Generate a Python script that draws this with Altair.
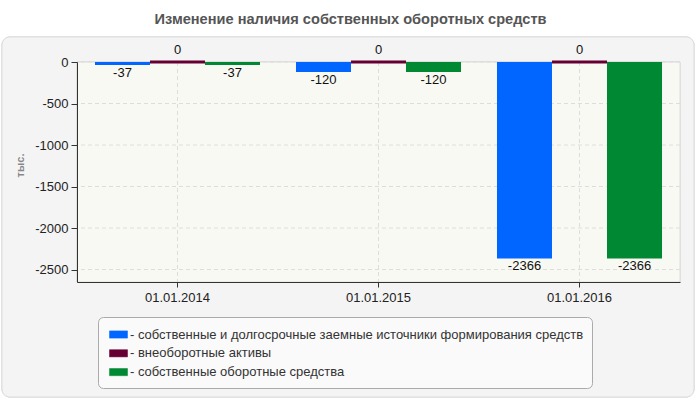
import altair as alt
import pandas as pd

categories = ["01.01.2014", "01.01.2015", "01.01.2016"]
series_names = [
    "собственные и долгосрочные заемные источники формирования средств",
    "внеоборотные активы",
    "собственные оборотные средства",
]
own_and_long = [-37, -120, -2366]
non_current = [0, 0, 0]
own_working = [-37, -120, -2366]
colors = ["#0066FF", "#660033", "#008833"]
y_ticks = [0, -500, -1000, -1500, -2000, -2500]

rows = []
for vals, name in zip([own_and_long, non_current, own_working], series_names):
    for c, v in zip(categories, vals):
        rows.append({"cat": c, "series": name, "value": v})
df = pd.DataFrame(rows)
ticks_df = pd.DataFrame({"v": y_ticks})
cats_df = pd.DataFrame({"cat": categories})

FONT = "Liberation Sans"
W, H = 603, 220

x_scale = alt.Scale(domain=categories, paddingInner=0, paddingOuter=0)
y_scale = alt.Scale(domain=[-2650, 0], nice=False, zero=False)
xo_scale = alt.Scale(domain=series_names, paddingInner=0, paddingOuter=0.327)

frame = alt.Chart(cats_df).mark_rect(
    fill="#f4f4f4", stroke="#dddddd", strokeWidth=1, cornerRadius=8
).encode(
    x=alt.value(-75), x2=alt.value(617), y=alt.value(-25), y2=alt.value(335)
)

plot_bg = alt.Chart(cats_df).mark_rect(
    fill="#f9f9f3", stroke="#dddddd", strokeWidth=1
).encode(
    x=alt.value(0), x2=alt.value(W), y=alt.value(0), y2=alt.value(H)
)

ygrid = alt.Chart(ticks_df).mark_rule(
    color="#dddddd", strokeDash=[4, 3], strokeWidth=1
).encode(y=alt.Y("v:Q", scale=y_scale))

xgrid = alt.Chart(cats_df).mark_rule(
    color="#dddddd", strokeDash=[4, 3], strokeWidth=1
).encode(x=alt.X("cat:N", scale=x_scale, bandPosition=0.5))

bars = alt.Chart(df).mark_bar().encode(
    x=alt.X("cat:N", scale=x_scale, sort=categories,
            axis=alt.Axis(title=None, labelAngle=0, labelAlign="center", labelBaseline="top",
                          labelFont=FONT, labelFontSize=13,
                          labelColor="#222222", domainColor="#333333", tickColor="#333333",
                          tickSize=5, labelPadding=4, grid=False, zindex=1)),
    xOffset=alt.XOffset("series:N", scale=xo_scale, sort=series_names),
    y=alt.Y("value:Q", scale=y_scale,
            axis=alt.Axis(values=y_ticks, title="тыс.", titleFont=FONT, titleFontSize=11,
                          titleFontWeight="bold", titleColor="#888888", titleX=-57, titleY=103,
                          titleAngle=-90, titleBaseline="middle", titleAlign="center",
                          labelFont=FONT, labelFontSize=13, labelColor="#222222",
                          labelExpr="'' + datum.value",
                          domainColor="#333333", tickColor="#333333", tickSize=6,
                          labelPadding=3, grid=False, zindex=1)),
    y2=alt.datum(0),
    color=alt.Color("series:N", scale=alt.Scale(domain=series_names, range=colors),
                    legend=alt.Legend(
                        title=None, orient="none", legendX=21, legendY=255,
                        direction="vertical", fillColor="#fafafa", strokeColor="#aaaaaa",
                        cornerRadius=5, padding=8,
                        symbolType="M-1,-0.4L1,-0.4L1,0.4L-1,0.4Z", symbolSize=324,
                        symbolStrokeColor="#555555", symbolStrokeWidth=0.5,
                        symbolOffset=3,
                        symbolOpacity=1, labelFont=FONT, labelFontSize=13.0,
                        labelColor="#333333", labelOffset=2, rowPadding=1.8,
                        labelExpr="'- ' + datum.label", labelLimit=600)),
    stroke=alt.Color("series:N", scale=alt.Scale(domain=series_names, range=colors), legend=None),
    strokeWidth=alt.condition("datum.value == 0", alt.value(3), alt.value(0)),
)

labels = alt.Chart(df).transform_calculate(label="'' + datum.value")

neg_text = labels.transform_filter("datum.value < 0").mark_text(
    baseline="top", dy=2, font=FONT, fontSize=13, color="#111111"
).encode(
    x=alt.X("cat:N", scale=x_scale),
    xOffset=alt.XOffset("series:N", scale=xo_scale),
    y=alt.Y("value:Q", scale=y_scale),
    text=alt.Text("label:N"),
)

zero_text = labels.transform_filter("datum.value >= 0").mark_text(
    baseline="bottom", dy=-5, font=FONT, fontSize=13, color="#111111"
).encode(
    x=alt.X("cat:N", scale=x_scale),
    xOffset=alt.XOffset("series:N", scale=xo_scale),
    y=alt.Y("value:Q", scale=y_scale),
    text=alt.Text("label:N"),
)

chart = alt.layer(frame, plot_bg, ygrid, xgrid, bars, neg_text, zero_text).properties(
    width=W, height=H,
    title=alt.TitleParams(
        "Изменение наличия собственных оборотных средств",
        font=FONT, fontSize=14.6, fontWeight="bold", color="#555555",
        anchor="middle", frame="group", dx=-28, offset=10,
    ),
    autosize=alt.AutoSizeParams(type="none"),
    padding={"left": 77, "top": 62, "right": 20, "bottom": 118},
    background="white",
).configure_view(strokeWidth=0)

chart.save("out.html", embed_options={"renderer": "svg", "actions": False})
